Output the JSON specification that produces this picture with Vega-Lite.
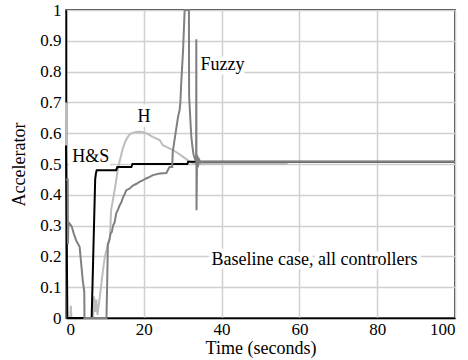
{
  "$schema": "https://vega.github.io/schema/vega-lite/v6.json",
  "width": 389,
  "height": 308,
  "autosize": "none",
  "padding": {"left": 66, "top": 10, "right": 13, "bottom": 42},
  "background": "white",
  "config": {
    "font": "Liberation Serif",
    "view": {"stroke": "black", "strokeWidth": 1.5},
    "axis": {
      "labelFont": "Liberation Serif", "labelFontSize": 17, "labelColor": "black",
      "titleFont": "Liberation Serif", "titleFontSize": 18, "titleFontWeight": "normal", "titleColor": "black",
      "domainColor": "black", "domainWidth": 1.5,
      "gridColor": "#d0d0d0", "gridWidth": 1.5, "gridOpacity": 1,
      "ticks": false
    }
  },
  "datasets": {
    "hs": [
      {"t": 0, "v": 0.56}, {"t": 0.35, "v": 0.0}, {"t": 6.6, "v": 0.0}, {"t": 7.0, "v": 0.2},
      {"t": 7.5, "v": 0.45}, {"t": 7.7, "v": 0.47}, {"t": 7.9, "v": 0.48}, {"t": 12.9, "v": 0.48},
      {"t": 13.2, "v": 0.49}, {"t": 16.8, "v": 0.49}, {"t": 17.1, "v": 0.5}, {"t": 31.2, "v": 0.5},
      {"t": 31.4, "v": 0.507}, {"t": 100, "v": 0.507}
    ],
    "h": [
      {"t": 0, "v": 0.7}, {"t": 0.15, "v": 0.0}, {"t": 1.1, "v": 0.0}, {"t": 1.25, "v": 0.04}, {"t": 1.4, "v": 0.0},
      {"t": 7.0, "v": 0.0}, {"t": 7.2, "v": 0.07}, {"t": 7.5, "v": 0.02}, {"t": 7.8, "v": 0.06}, {"t": 8.1, "v": 0.01},
      {"t": 8.5, "v": 0.05}, {"t": 9.0, "v": 0.1}, {"t": 9.5, "v": 0.155}, {"t": 10.0, "v": 0.2}, {"t": 10.4, "v": 0.22},
      {"t": 11.0, "v": 0.25}, {"t": 11.3, "v": 0.26}, {"t": 11.6, "v": 0.35}, {"t": 12.05, "v": 0.382},
      {"t": 12.5, "v": 0.415}, {"t": 12.9, "v": 0.447}, {"t": 13.3, "v": 0.48}, {"t": 13.8, "v": 0.51},
      {"t": 14.6, "v": 0.55}, {"t": 15.3, "v": 0.575}, {"t": 15.9, "v": 0.588}, {"t": 16.5, "v": 0.598},
      {"t": 17.2, "v": 0.601}, {"t": 18.0, "v": 0.604}, {"t": 18.9, "v": 0.605}, {"t": 19.8, "v": 0.603},
      {"t": 20.6, "v": 0.6}, {"t": 21.5, "v": 0.594}, {"t": 22.3, "v": 0.588}, {"t": 24.1, "v": 0.578},
      {"t": 24.9, "v": 0.561}, {"t": 26.2, "v": 0.553}, {"t": 27.5, "v": 0.545}, {"t": 28.8, "v": 0.535},
      {"t": 30.1, "v": 0.523}, {"t": 31.0, "v": 0.515}, {"t": 31.8, "v": 0.507}, {"t": 32.6, "v": 0.503},
      {"t": 33.5, "v": 0.5}, {"t": 57, "v": 0.5}
    ],
    "fuzzy": [
      {"t": 0, "v": 0.45}, {"t": 0.45, "v": 0.45}, {"t": 0.5, "v": 0.24}, {"t": 0.6, "v": 0.3},
      {"t": 0.9, "v": 0.307}, {"t": 1.3, "v": 0.3}, {"t": 1.5, "v": 0.296}, {"t": 1.75, "v": 0.285},
      {"t": 2.0, "v": 0.274}, {"t": 2.6, "v": 0.252}, {"t": 3.5, "v": 0.231}, {"t": 3.9, "v": 0.177},
      {"t": 4.3, "v": 0.123}, {"t": 4.7, "v": 0.085}, {"t": 4.75, "v": 0.0}, {"t": 10.4, "v": 0.0},
      {"t": 10.6, "v": 0.12}, {"t": 10.76, "v": 0.24}, {"t": 11.1, "v": 0.25}, {"t": 11.45, "v": 0.274},
      {"t": 11.8, "v": 0.28}, {"t": 12.1, "v": 0.3}, {"t": 12.5, "v": 0.31}, {"t": 12.9, "v": 0.34},
      {"t": 13.3, "v": 0.35}, {"t": 13.8, "v": 0.366}, {"t": 14.2, "v": 0.375}, {"t": 14.6, "v": 0.39},
      {"t": 15.0, "v": 0.4}, {"t": 15.5, "v": 0.415}, {"t": 16.3, "v": 0.42}, {"t": 17.2, "v": 0.43},
      {"t": 18.0, "v": 0.435}, {"t": 18.9, "v": 0.442}, {"t": 19.7, "v": 0.447}, {"t": 20.6, "v": 0.453},
      {"t": 21.5, "v": 0.458}, {"t": 22.35, "v": 0.464}, {"t": 24.1, "v": 0.469}, {"t": 25.8, "v": 0.471},
      {"t": 26.6, "v": 0.49}, {"t": 27.3, "v": 0.49}, {"t": 27.45, "v": 0.54}, {"t": 28.4, "v": 0.62},
      {"t": 28.8, "v": 0.653}, {"t": 29.2, "v": 0.675}, {"t": 29.4, "v": 0.7}, {"t": 29.65, "v": 0.77},
      {"t": 30.1, "v": 0.87}, {"t": 30.5, "v": 1.0}, {"t": 31.6, "v": 1.0}, {"t": 31.65, "v": 0.72},
      {"t": 32.2, "v": 0.59}, {"t": 32.5, "v": 0.556}, {"t": 32.8, "v": 0.53}, {"t": 33.2, "v": 0.515},
      {"t": 33.45, "v": 0.52}, {"t": 33.5, "v": 0.905}, {"t": 33.55, "v": 0.35}, {"t": 33.7, "v": 0.53},
      {"t": 33.9, "v": 0.49}, {"t": 34.2, "v": 0.515}, {"t": 34.6, "v": 0.505}, {"t": 35, "v": 0.507},
      {"t": 100, "v": 0.507}
    ],
    "labels": [
      {"t": 1.6, "v": 0.523, "text": "H&S"},
      {"t": 18.4, "v": 0.654, "text": "H"},
      {"t": 34.6, "v": 0.821, "text": "Fuzzy"},
      {"t": 37.4, "v": 0.188, "text": "Baseline case, all controllers"}
    ]
  },
  "encoding": {
    "x": {
      "field": "t", "type": "quantitative",
      "scale": {"domain": [0, 100], "nice": false},
      "axis": {
        "values": [0, 20, 40, 60, 80, 100], "title": "Time (seconds)",
        "labelFont": "Liberation Serif", "labelFontSize": 17, "labelPadding": 3, "titlePadding": 2
      }
    },
    "y": {
      "field": "v", "type": "quantitative",
      "scale": {"domain": [0, 1], "nice": false},
      "axis": {
        "values": [0, 0.1, 0.2, 0.3, 0.4, 0.5, 0.6, 0.7, 0.8, 0.9, 1], "format": "~g", "title": "Accelerator",
        "labelFont": "Liberation Serif", "labelFontSize": 17, "labelPadding": 5, "titlePadding": 11
      }
    }
  },
  "layer": [
    {
      "data": {"name": "labels"},
      "mark": {"type": "text", "align": "left", "baseline": "middle", "fontSize": 18, "font": "Liberation Serif", "stroke": "white", "strokeWidth": 9, "strokeJoin": "round", "fill": "white"},
      "encoding": {"text": {"field": "text"}}
    },
    {
      "data": {"name": "h"},
      "mark": {"type": "line", "color": "#bdbdbd", "strokeWidth": 2},
      "encoding": {}
    },
    {
      "data": {"name": "hs"},
      "mark": {"type": "line", "color": "black", "strokeWidth": 2},
      "encoding": {}
    },
    {
      "data": {"name": "fuzzy"},
      "mark": {"type": "line", "color": "#808080", "strokeWidth": 2},
      "encoding": {}
    },
    {
      "data": {"name": "labels"},
      "mark": {"type": "text", "align": "left", "baseline": "middle", "fontSize": 18, "font": "Liberation Serif", "color": "black"},
      "encoding": {"text": {"field": "text"}}
    }
  ]
}
